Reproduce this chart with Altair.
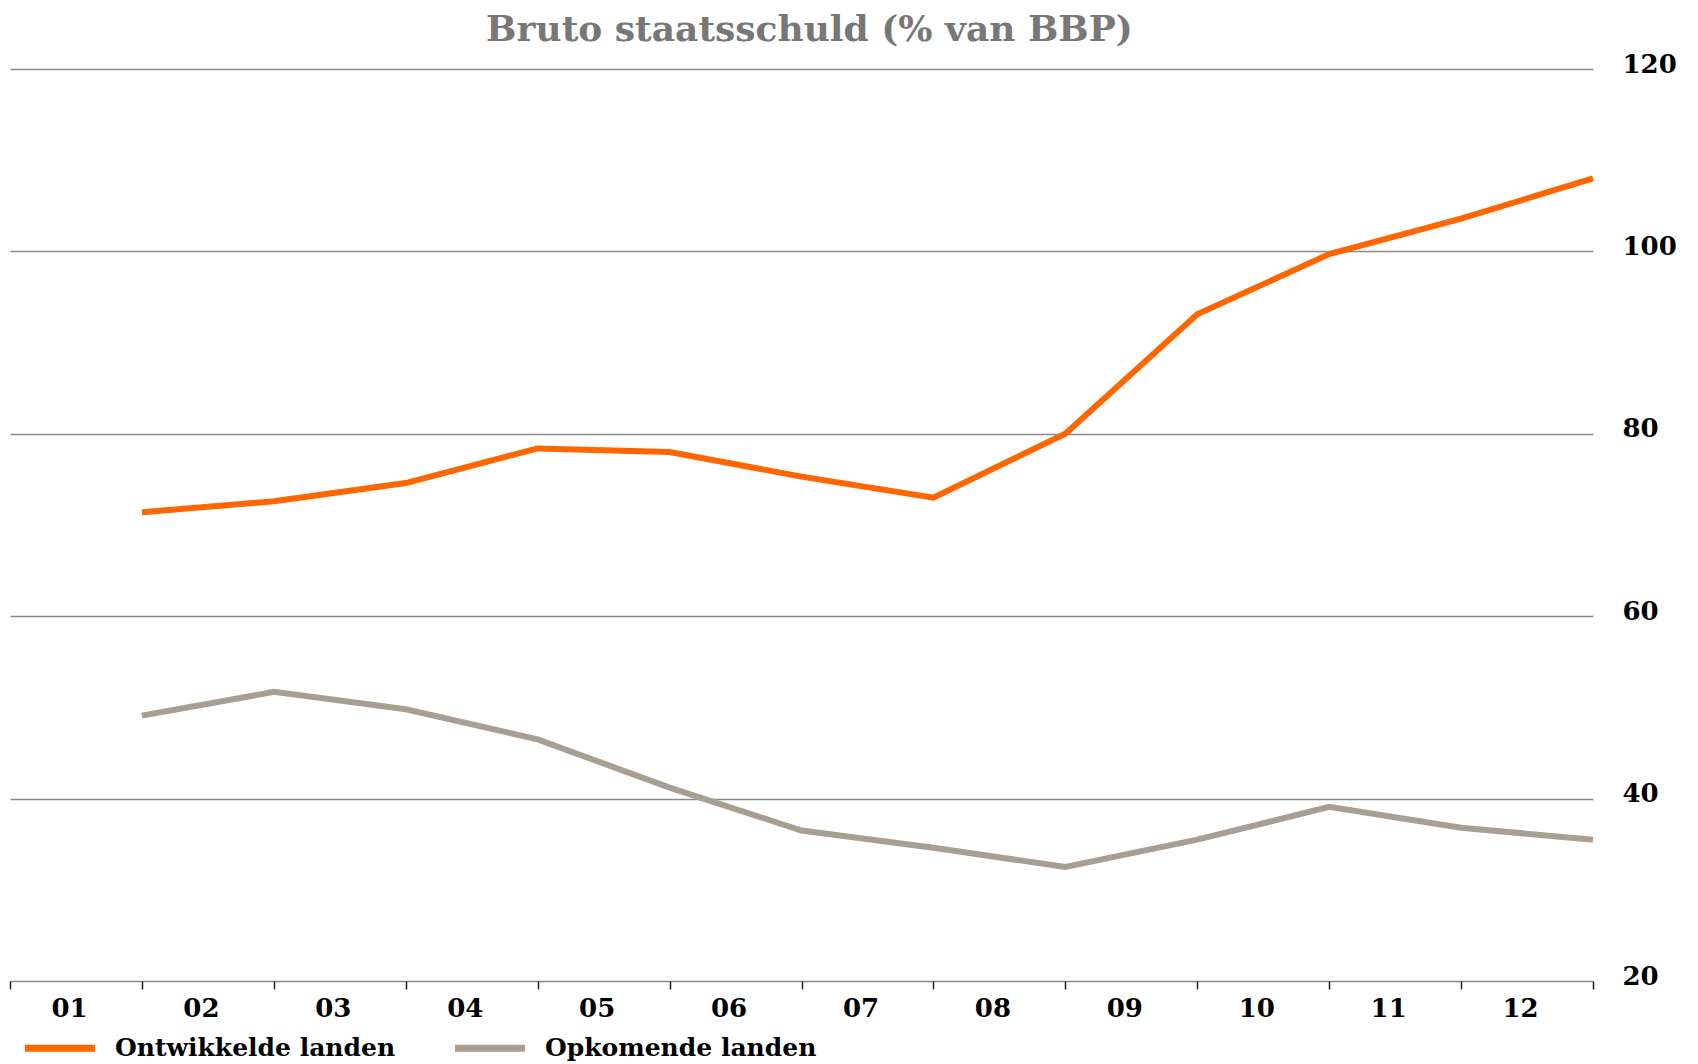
import altair as alt
import pandas as pd

# ---- data ----
years = ["01", "02", "03", "04", "05", "06", "07", "08", "09", "10", "11", "12"]
ontwikkelde = [71.4, 72.6, 74.6, 78.4, 78.0, 75.3, 73.0, 80.0, 93.1, 99.7, 103.6, 108.0]
opkomende = [49.1, 51.7, 49.8, 46.5, 41.2, 36.5, 34.6, 32.5, 35.5, 39.1, 36.8, 35.5]
series_names = ["Ontwikkelde landen", "Opkomende landen"]
series_colors = ["#FF6600", "#A89E92"]
y_ticks = [20, 40, 60, 80, 100, 120]
title_text = "Bruto staatsschuld (% van BBP)"

rows = []
for i, yr in enumerate(years):
    rows.append({"pos": i + 1, "jaar": yr, "serie": series_names[0], "waarde": ontwikkelde[i]})
    rows.append({"pos": i + 1, "jaar": yr, "serie": series_names[1], "waarde": opkomende[i]})
df = pd.DataFrame(rows)

FONT = "DejaVu Serif"
label_expr = "[" + ",".join("'%s'" % y for y in years) + "][datum.value] || ''"

chart = alt.Chart(df).mark_line(strokeWidth=6).encode(
    x=alt.X(
        "pos:Q",
        scale=alt.Scale(domain=[0, len(years)], nice=False, zero=False),
        axis=alt.Axis(
            values=list(range(len(years) + 1)),
            labelExpr=label_expr,
            title=None,
            grid=False,
            domain=False,
            ticks=True,
            tickSize=8,
            tickColor="#222222",
            tickWidth=1.5,
            labelOffset=59,
            labelPadding=6,
            labelFont=FONT,
            labelFontWeight="bold",
            labelFontSize=26,
            labelColor="black",
            labelFlush=False,
            labelOverlap=False,
            labelBound=False,
        ),
    ),
    y=alt.Y(
        "waarde:Q",
        scale=alt.Scale(domain=[20, 120], nice=False, zero=False),
        axis=alt.Axis(
            orient="right",
            values=y_ticks,
            title=None,
            grid=True,
            gridColor="#8a8a8a",
            gridWidth=1.5,
            domain=False,
            ticks=False,
            labelPadding=29,
            labelOffset=-5,
            labelFont=FONT,
            labelFontWeight="bold",
            labelFontSize=26,
            labelColor="black",
            labelFlush=False,
            labelOverlap=False,
        ),
    ),
    color=alt.Color(
        "serie:N",
        scale=alt.Scale(domain=series_names, range=series_colors),
        legend=alt.Legend(
            title=None,
            orient="none",
            legendX=11.5,
            legendY=940.5,
            direction="horizontal",
            symbolType="stroke",
            symbolSize=4900,
            symbolStrokeWidth=7,
            labelFont=FONT,
            labelFontSize=25,
            labelFontWeight="bold",
            labelColor="black",
            labelOffset=16.5,
            labelLimit=600,
            columnPadding=45,
            padding=0,
        ),
    ),
).properties(
    width=1583,
    height=912,
    title=alt.TitleParams(
        text=title_text,
        font=FONT,
        fontSize=36,
        fontWeight="bold",
        color="#777777",
        anchor="middle",
        frame="group",
        dx=8,
        offset=2,
    ),
    autosize=alt.AutoSizeParams(type="none"),
    padding={"left": 2, "top": 61, "right": 88, "bottom": 83},
).configure_view(stroke=None)

chart.save("out.html", embed_options={"renderer": "svg", "actions": False})
